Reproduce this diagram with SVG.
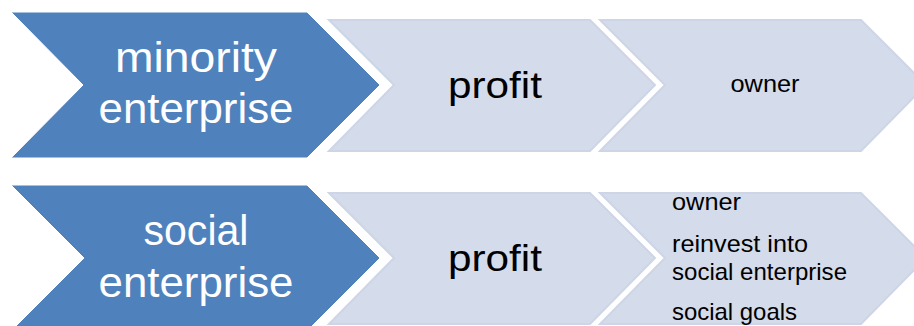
<svg xmlns="http://www.w3.org/2000/svg" width="914" height="326" viewBox="0 0 914 326">
<style>
.blue{fill:#4F81BD;stroke:#FFFFFF;stroke-width:1}
.light{fill:#D4DBEA;stroke:#CDD5E6;stroke-width:2}
.big{font-family:"Liberation Sans",Arial,sans-serif;font-size:43px;fill:#FFFFFF;text-anchor:middle}
.mid{font-family:"Liberation Sans",Arial,sans-serif;font-size:37px;fill:#000000;text-anchor:middle}
.small{font-family:"Liberation Sans",Arial,sans-serif;font-size:24px;fill:#000000}
</style>
<rect width="914" height="326" fill="#FFFFFF"/>
<g id="minority-enterprise">
<polygon class="blue" points="11,12 307,12 380,85 307,158 11,158 83,85"/>
<text class="big" x="196" y="72" textLength="162" lengthAdjust="spacingAndGlyphs">minority</text>
<text class="big" x="196" y="123" textLength="195" lengthAdjust="spacingAndGlyphs">enterprise</text>
</g>
<g id="profit-1">
<polygon class="light" points="329,20 590,20 655,85 590,151 329,151 394,85"/>
<text class="mid" x="495" y="98" textLength="94" lengthAdjust="spacingAndGlyphs">profit</text>
</g>
<g id="owner-1">
<polygon class="light" points="600,20 861,20 926,85 861,151 600,151 665,85"/>
<text class="small" x="765" y="92" text-anchor="middle" textLength="69" lengthAdjust="spacingAndGlyphs">owner</text>
</g>
<g id="social-enterprise">
<polygon class="blue" points="11,185 307,185 380,258 307,331 11,331 84,258"/>
<text class="big" x="196" y="245" textLength="105" lengthAdjust="spacingAndGlyphs">social</text>
<text class="big" x="196" y="297" textLength="195" lengthAdjust="spacingAndGlyphs">enterprise</text>
</g>
<g id="profit-2">
<polygon class="light" points="329,193 590,193 655,258 590,324 329,324 394,258"/>
<text class="mid" x="495" y="271" textLength="94" lengthAdjust="spacingAndGlyphs">profit</text>
</g>
<g id="outcomes-2">
<polygon class="light" points="600,193 861,193 926,258 861,324 600,324 665,258"/>
<text class="small" x="672" y="210" textLength="69" lengthAdjust="spacingAndGlyphs">owner</text>
<text class="small" x="672" y="252" textLength="136" lengthAdjust="spacingAndGlyphs">reinvest into</text>
<text class="small" x="672" y="280" textLength="175" lengthAdjust="spacingAndGlyphs">social enterprise</text>
<text class="small" x="672" y="320" textLength="125" lengthAdjust="spacingAndGlyphs">social goals</text>
</g>
<g id="connectors"/>
</svg>
